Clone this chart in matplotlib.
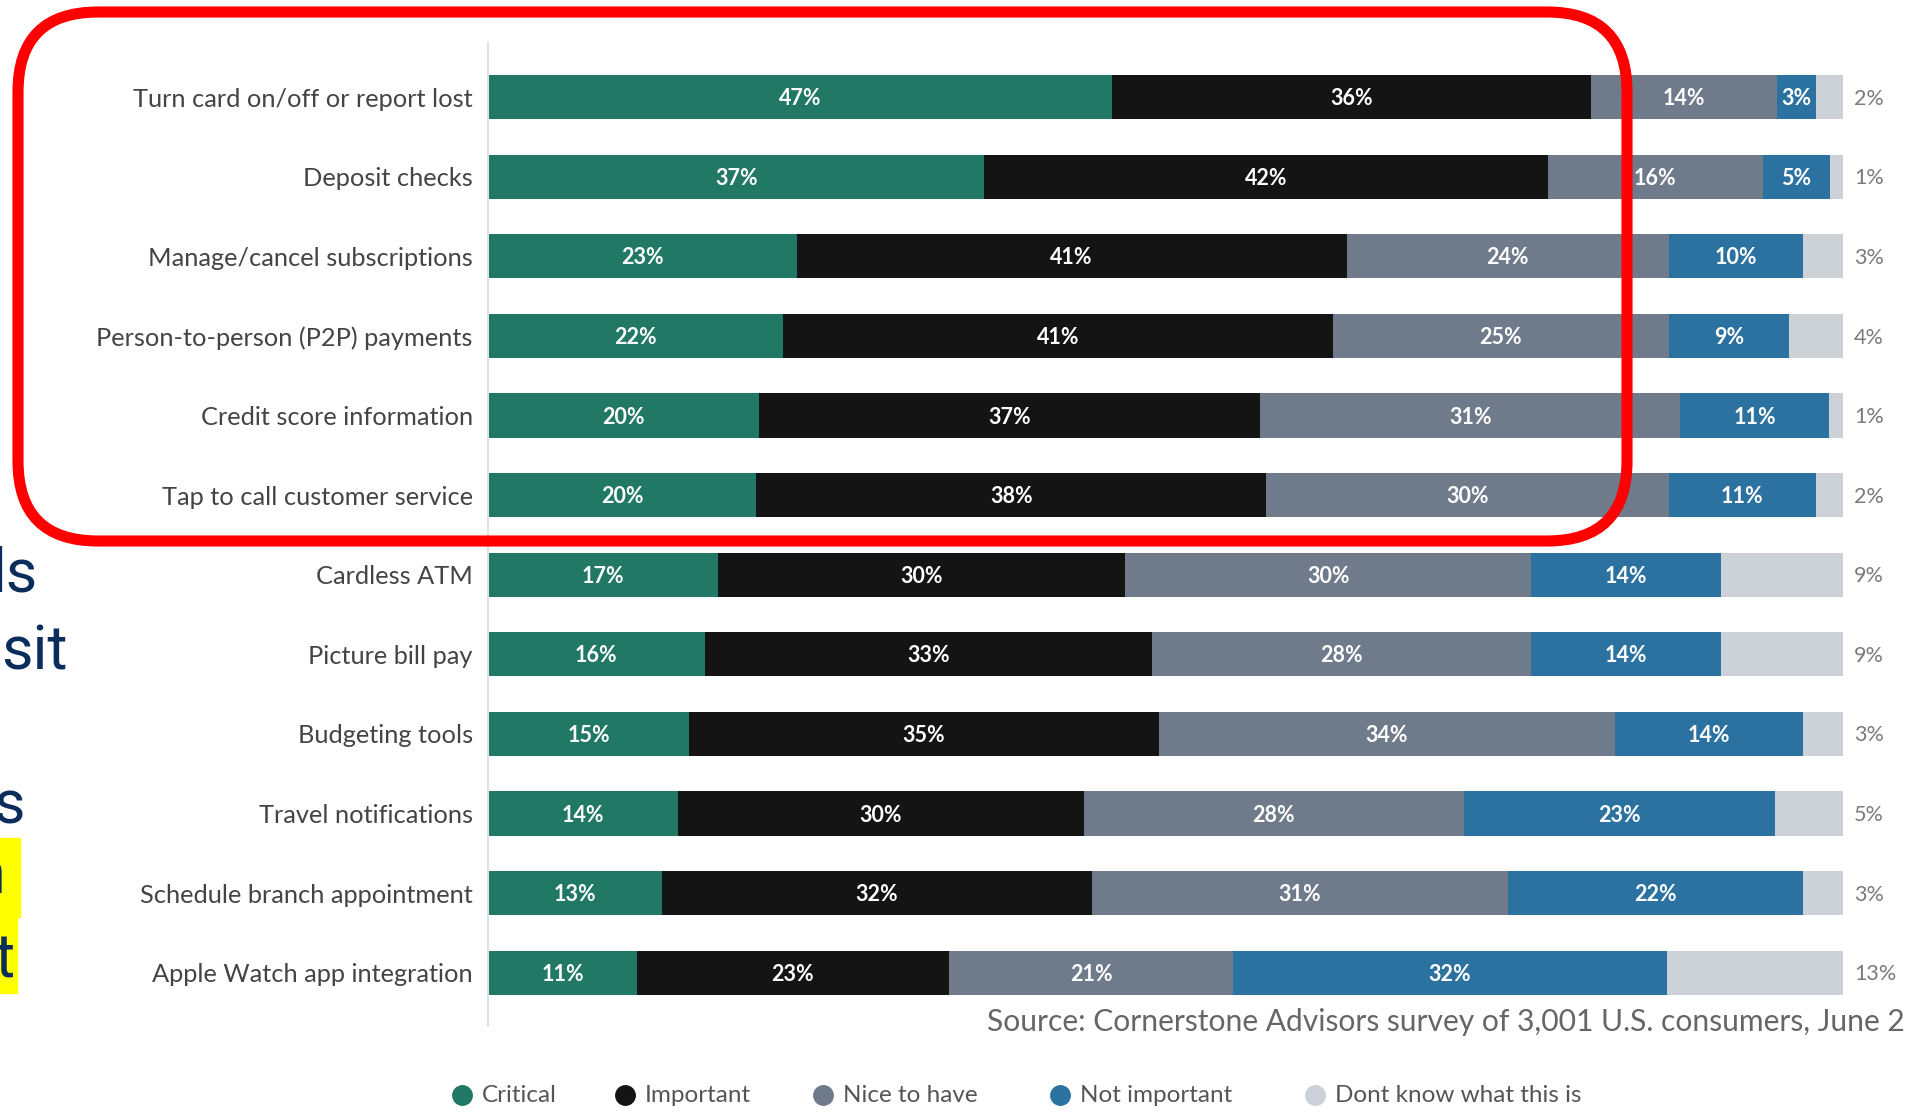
import matplotlib
matplotlib.use("Agg")
import matplotlib.pyplot as plt
from matplotlib.patches import FancyBboxPatch, Rectangle
from matplotlib.lines import Line2D
import numpy as np

# ---------------- data ----------------
categories = [
    "Turn card on/off or report lost",
    "Deposit checks",
    "Manage/cancel subscriptions",
    "Person-to-person (P2P) payments",
    "Credit score information",
    "Tap to call customer service",
    "Cardless ATM",
    "Picture bill pay",
    "Budgeting tools",
    "Travel notifications",
    "Schedule branch appointment",
    "Apple Watch app integration",
]
critical      = [47, 37, 23, 22, 20, 20, 17, 16, 15, 14, 13, 11]
important     = [36, 42, 41, 41, 37, 38, 30, 33, 35, 30, 32, 23]
nice_to_have  = [14, 16, 24, 25, 31, 30, 30, 28, 34, 28, 31, 21]
not_important = [3, 5, 10, 9, 11, 11, 14, 14, 14, 23, 22, 32]
dont_know     = [2, 1, 3, 4, 1, 2, 9, 9, 3, 5, 3, 13]

series_names = ["Critical", "Important", "Nice to have", "Not important",
                "Dont know what this is"]
series_colors = ["#217865", "#141414", "#6f7b8a", "#2c72a0", "#cbd1d6"]

source_text = "Source: Cornerstone Advisors survey of 3,001 U.S. consumers, June 2"
side_fragments = ["ls", "sit", "s", "n", "t"]

# ---------------- figure ----------------
W, H = 1908, 1117
fig = plt.figure(figsize=(W / 100, H / 100), dpi=100)
fig.patch.set_facecolor("white")

def fx(px):
    return px / W

def fy(py):
    return 1 - py / H

ax = fig.add_axes([fx(488), fy(1026), fx(1843) - fx(488), fy(43) - fy(1026)])

series = [critical, important, nice_to_have, not_important, dont_know]
data = np.array(series, dtype=float)
totals = data.sum(axis=0)
norm = data / totals * 100

y = np.arange(len(categories))
left = np.zeros(len(categories))
for i, (vals, raw, col) in enumerate(zip(norm, data, series_colors)):
    ax.barh(y, vals, left=left, height=0.555, color=col, edgecolor="none")
    for j in range(len(categories)):
        label = f"{int(raw[j])}%"
        if i < 4:
            ax.text(left[j] + vals[j] / 2, y[j] + 0.02, label, ha="center", va="center",
                    color="white", fontsize=15.5, fontweight="bold", family="Lato")
        else:
            ax.text(100.8, y[j] + 0.02, label, ha="left", va="center",
                    color="#7a7a7a", fontsize=15.5, family="Lato")
    left += vals

ax.set_xlim(0, 100)
ax.set_ylim(len(categories) - 1 + 0.67, -0.68)
ax.set_yticks(y)
ax.set_yticklabels(categories, family="Lato", fontsize=18.3, color="#444444")
ax.tick_params(axis="y", length=0, pad=11)
ax.set_xticks([])
for s in ["top", "right", "bottom"]:
    ax.spines[s].set_visible(False)
ax.spines["left"].set_color("#e2e2e2")
ax.spines["left"].set_linewidth(1.5)

# source text
fig.text(fx(987), fy(1022), source_text, ha="left", va="center",
         family="Lato", fontsize=21.6, color="#666666")

# legend
legend_x = [462, 625, 823, 1060, 1315]
for name, col, lx in zip(series_names, series_colors, legend_x):
    fig.add_artist(Line2D([fx(lx)], [fy(1095)], marker="o", markersize=14,
                          color=col, linestyle="none", transform=fig.transFigure))
    fig.text(fx(lx + 20), fy(1095), name, ha="left", va="center",
             family="Lato", fontsize=17.5, color="#555555")

# left side fragments from the slide
hl = [(0, 838, 20, 79), (0, 917, 17, 76)]
for (hx, hy, hw, hh) in hl:
    fig.add_artist(Rectangle((fx(hx), fy(hy + hh)), fx(hw), hh / H,
                             transform=fig.transFigure, color="#ffff00",
                             zorder=1))
frag_pos = [(38, 592), (68, 670), (25, 823), (6, 893), (15, 977)]
for t, (px, py) in zip(side_fragments, frag_pos):
    fig.text(fx(px), fy(py), t, ha="right", va="baseline", family="Roboto",
             fontsize=44, color="#0b2d5b", zorder=2)

# red rounded annotation box
box = FancyBboxPatch((18 / 100, (H - 541) / 100), (1627 - 18) / 100, (541 - 12) / 100,
                     boxstyle="round,pad=0,rounding_size=0.8",
                     transform=fig.dpi_scale_trans, fill=False,
                     edgecolor="#ff0000", linewidth=8, zorder=5)
fig.add_artist(box)

fig.savefig("out.png", dpi=100)
